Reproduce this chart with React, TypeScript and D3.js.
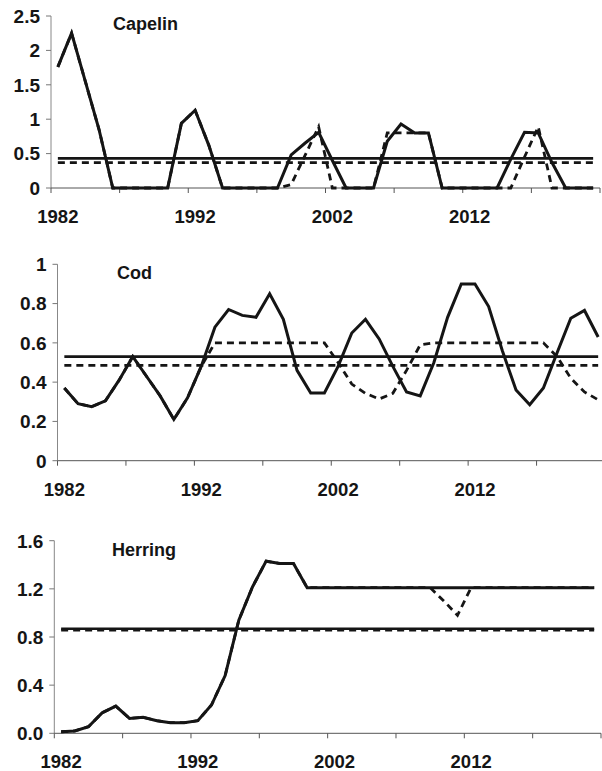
import * as d3 from "d3";

const width = 602;
const height = 771;

const years = [
  1982, 1983, 1984, 1985, 1986, 1987, 1988, 1989, 1990, 1991,
  1992, 1993, 1994, 1995, 1996, 1997, 1998, 1999, 2000, 2001,
  2002, 2003, 2004, 2005, 2006, 2007, 2008, 2009, 2010, 2011,
  2012, 2013, 2014, 2015, 2016, 2017, 2018, 2019, 2020, 2021,
];
const labelYears = [1982, 1992, 2002, 2012];

// capelin: solid = base run, dashed = alternative run
const capelinBase = [
  1.76, 2.25, 1.55, 0.85, 0, 0, 0, 0, 0, 0.94,
  1.13, 0.62, 0, 0, 0, 0, 0, 0.48, 0.65, 0.81,
  0.4, 0, 0, 0, 0.68, 0.93, 0.8, 0.8, 0, 0,
  0, 0, 0, 0.42, 0.81, 0.8, 0.37, 0, 0, 0,
];
const capelinAlt = [
  1.76, 2.25, 1.55, 0.85, 0, 0, 0, 0, 0, 0.94,
  1.13, 0.62, 0, 0, 0, 0, 0, 0.05, 0.47, 0.89,
  0, 0, 0, 0, 0.8, 0.8, 0.8, 0.8, 0, 0,
  0, 0, 0, 0, 0.45, 0.89, 0, 0, 0, 0,
];
const capelinMeans = [0.43, 0.37];
const capelinTicks = [0, 0.5, 1, 1.5, 2, 2.5];

const codBase = [
  0.37, 0.29, 0.275, 0.305, 0.41, 0.53, 0.43, 0.33, 0.21, 0.32,
  0.48, 0.68, 0.77, 0.74, 0.73, 0.85, 0.72, 0.46, 0.345, 0.345,
  0.48, 0.65, 0.72, 0.62, 0.48, 0.35, 0.33, 0.5, 0.73, 0.9,
  0.9, 0.785, 0.56, 0.36, 0.285, 0.37, 0.55, 0.725, 0.765, 0.63,
];
const codAlt = [
  0.37, 0.29, 0.275, 0.305, 0.41, 0.53, 0.43, 0.33, 0.21, 0.32,
  0.48, 0.6, 0.6, 0.6, 0.6, 0.6, 0.6, 0.6, 0.6, 0.6,
  0.5, 0.39, 0.343, 0.314, 0.343, 0.46, 0.59, 0.6, 0.6, 0.6,
  0.6, 0.6, 0.6, 0.6, 0.6, 0.6, 0.53, 0.42, 0.35, 0.31,
];
const codMeans = [0.53, 0.485];
const codTicks = [0, 0.2, 0.4, 0.6, 0.8, 1];

const herringBase = [
  0.013, 0.02, 0.055, 0.17, 0.226, 0.124, 0.133, 0.105, 0.088, 0.088,
  0.105, 0.235, 0.48, 0.94, 1.216, 1.43, 1.41, 1.41, 1.21, 1.21,
  1.21, 1.21, 1.21, 1.21, 1.21, 1.21, 1.21, 1.21, 1.21, 1.21,
  1.21, 1.21, 1.21, 1.21, 1.21, 1.21, 1.21, 1.21, 1.21, 1.21,
];
const herringAlt = [
  0.013, 0.02, 0.055, 0.17, 0.226, 0.124, 0.133, 0.105, 0.088, 0.088,
  0.105, 0.235, 0.48, 0.94, 1.216, 1.43, 1.41, 1.41, 1.21, 1.21,
  1.21, 1.21, 1.21, 1.21, 1.21, 1.21, 1.21, 1.21, 1.1, 0.98,
  1.21, 1.21, 1.21, 1.21, 1.21, 1.21, 1.21, 1.21, 1.21, 1.21,
];
const herringMeans = [0.868, 0.857];
const herringTicks = [0, 0.4, 0.8, 1.2, 1.6];

type Panel = {
  title: string;
  base: number[];
  alt: number[];
  means: number[];
  ticks: number[];
  fmt: (v: number) => string;
  left: number;
  right: number;
  top: number;
  bottom: number;
  titleX: number;
  titleY: number;
};

const panels: Panel[] = [
  {
    title: "Capelin", base: capelinBase, alt: capelinAlt, means: capelinMeans,
    ticks: capelinTicks, fmt: (v) => String(v),
    left: 51, right: 600, top: 16, bottom: 188, titleX: 113, titleY: 30,
  },
  {
    title: "Cod", base: codBase, alt: codAlt, means: codMeans,
    ticks: codTicks, fmt: (v) => String(v),
    left: 57.5, right: 605, top: 264.3, bottom: 460.7, titleX: 117, titleY: 279,
  },
  {
    title: "Herring", base: herringBase, alt: herringAlt, means: herringMeans,
    ticks: herringTicks, fmt: d3.format(".1f"),
    left: 54.3, right: 601, top: 540.7, bottom: 733.3, titleX: 112, titleY: 556,
  },
];

const font = "'Liberation Sans', Arial, sans-serif";
const ink = "#151515";

const ChartPanel = ({ p }: { p: Panel }) => {
  const x = d3.scaleBand<number>().domain(years).range([p.left, p.right]);
  const cx = (yr: number) => (x(yr) ?? 0) + x.bandwidth() / 2;
  const y = d3.scaleLinear()
    .domain([0, p.ticks[p.ticks.length - 1]])
    .range([p.bottom, p.top]);
  const line = d3.line<number>()
    .x((_, i) => cx(years[i]))
    .y((d) => y(d));

  // tick marks sit between categories, every 5 years
  const tickPos = years
    .filter((_, i) => i % 5 === 0)
    .map((yr) => x(yr) ?? 0)
    .concat([p.right]);
  const x0 = cx(years[0]);
  const x1 = cx(years[years.length - 1]);

  return (
    <g>
      {/* y axis */}
      <line x1={p.left} x2={p.left} y1={p.top} y2={p.bottom} stroke="#888" strokeWidth={1} />
      {p.ticks.map((t) => (
        <g key={t}>
          <line x1={p.left - 5} x2={p.left} y1={y(t)} y2={y(t)} stroke="#777" strokeWidth={1} />
          <text
            x={p.left - 11}
            y={y(t)}
            dy="0.36em"
            textAnchor="end"
            fontFamily={font}
            fontWeight="bold"
            fontSize={19}
            fill={ink}
          >
            {p.fmt(t)}
          </text>
        </g>
      ))}
      {/* x axis */}
      <line x1={p.left} x2={p.right} y1={p.bottom} y2={p.bottom} stroke="#555" strokeWidth={1} />
      {tickPos.map((tx, i) => (
        <line key={i} x1={tx} x2={tx} y1={p.bottom} y2={p.bottom + 5} stroke="#555" strokeWidth={1} />
      ))}
      {labelYears.map((yr) => (
        <text
          key={yr}
          x={cx(yr)}
          y={p.bottom + 35}
          textAnchor="middle"
          fontFamily={font}
          fontWeight="bold"
          fontSize={18.5}
          fill={ink}
        >
          {yr}
        </text>
      ))}
      {/* series */}
      <path d={line(p.alt) ?? ""} fill="none" stroke={ink} strokeWidth={2.8} strokeDasharray="7 5" />
      <path d={line(p.base) ?? ""} fill="none" stroke={ink} strokeWidth={3} strokeLinejoin="miter" />
      <line x1={x0} x2={x1} y1={y(p.means[0])} y2={y(p.means[0])} stroke={ink} strokeWidth={2.6} />
      <line
        x1={x0}
        x2={x1}
        y1={y(p.means[1])}
        y2={y(p.means[1])}
        stroke={ink}
        strokeWidth={2.8}
        strokeDasharray="7 5"
      />
      <text
        x={p.titleX}
        y={p.titleY}
        fontFamily={font}
        fontWeight="bold"
        fontSize={18}
        fill={ink}
      >
        {p.title}
      </text>
    </g>
  );
};

export default function App() {
  return (
    <svg
      width={width}
      height={height}
      viewBox={`0 0 ${width} ${height}`}
      style={{ position: "absolute", left: 0, top: 0, background: "#fff" }}
    >
      <rect width={width} height={height} fill="#fff" />
      {panels.map((p) => (
        <ChartPanel key={p.title} p={p} />
      ))}
    </svg>
  );
}
